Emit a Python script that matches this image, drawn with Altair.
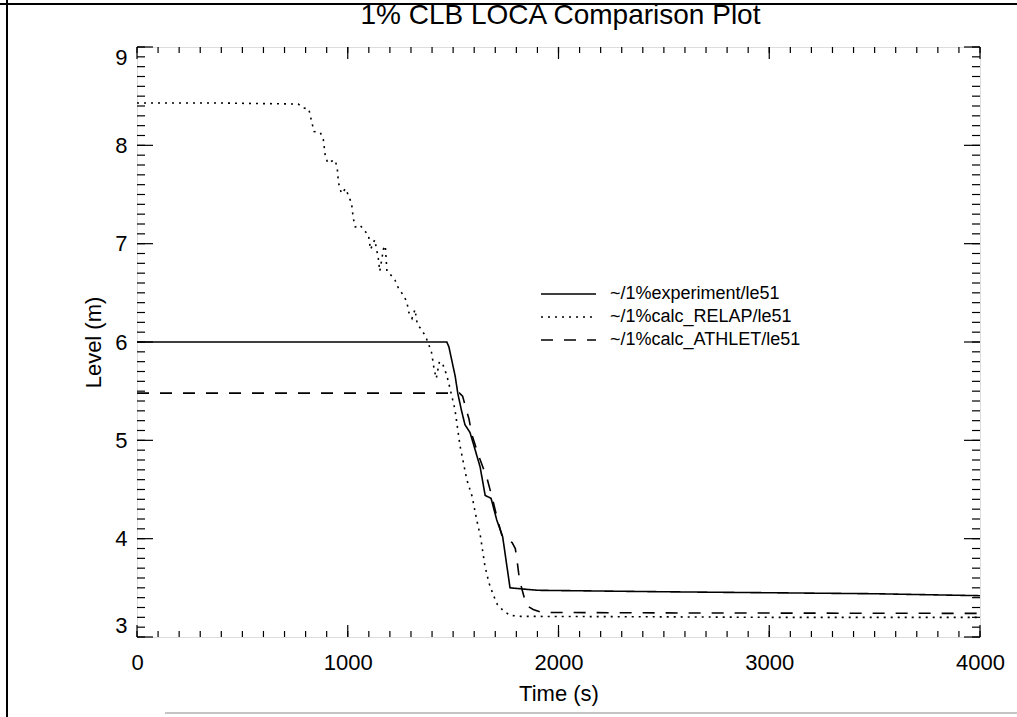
import altair as alt
import pandas as pd

# ---------------- data ----------------
chart_title = "1% CLB LOCA Comparison Plot"
series_names = ["~/1%experiment/le51", "~/1%calc_RELAP/le51", "~/1%calc_ATHLET/le51"]

exp_t = [0, 1470, 1480, 1495, 1510, 1522, 1540, 1556, 1580, 1605, 1628, 1652, 1680,
         1707, 1735, 1770, 1900, 2500, 3000, 3500, 4000]
exp_l = [6.0, 6.0, 5.95, 5.8, 5.65, 5.48, 5.3, 5.16, 5.08, 4.9, 4.73, 4.44, 4.41,
         4.19, 4.02, 3.50, 3.475, 3.46, 3.45, 3.44, 3.42]

relap_t = [0, 400, 765, 790, 815, 829, 840, 870, 884, 893, 905, 925, 940, 950, 956, 970,
           990, 1005, 1018, 1026, 1036, 1058, 1080, 1098, 1108, 1128, 1145, 1152, 1170,
           1178, 1186, 1205, 1224, 1240, 1262, 1280, 1290, 1305, 1319, 1330, 1345, 1366,
           1382, 1398, 1410, 1420, 1435, 1450, 1470, 1485, 1509, 1533, 1565, 1590, 1612,
           1630, 1651, 1670, 1690, 1710, 1737, 1770, 1820, 2500, 3000, 3500, 4000]
relap_l = [8.43, 8.43, 8.42, 8.38, 8.37, 8.24, 8.14, 8.13, 8.06, 7.90, 7.82, 7.84, 7.85,
           7.77, 7.62, 7.51, 7.56, 7.48, 7.41, 7.26, 7.17, 7.19, 7.13, 7.09, 6.94, 7.04,
           6.85, 6.72, 6.95, 6.98, 6.72, 6.68, 6.63, 6.55, 6.48, 6.41, 6.30, 6.24, 6.33,
           6.18, 6.14, 6.07, 5.99, 5.89, 5.72, 5.63, 5.80, 5.78, 5.66, 5.53, 5.31, 4.94,
           4.60, 4.43, 4.19, 4.02, 3.72, 3.55, 3.43, 3.33, 3.27, 3.22, 3.21, 3.205, 3.20,
           3.20, 3.20]

ath_t = [0, 1530, 1545, 1560, 1575, 1590, 1620, 1660, 1685, 1710, 1732, 1755, 1780, 1795,
         1805, 1815, 1835, 1848, 1880, 1920, 2500, 4000]
ath_l = [5.48, 5.48, 5.45, 5.33, 5.22, 5.05, 4.85, 4.62, 4.42, 4.2, 4.03, 3.99, 3.96, 3.9,
         3.75, 3.58, 3.42, 3.32, 3.28, 3.25, 3.245, 3.24]

x_major = [0, 1000, 2000, 3000, 4000]
x_minor = list(range(0, 4001, 100))
y_major = [3, 4, 5, 6, 7, 8, 9]
y_minor = [round(3 + i * 0.1, 1) for i in range(61)]

# ---------------- layout ----------------
W, H = 843, 590
FONT = "Liberation Sans"

frames = []
for name, ts, ls in [(series_names[0], exp_t, exp_l),
                     (series_names[1], relap_t, relap_l),
                     (series_names[2], ath_t, ath_l)]:
    frames.append(pd.DataFrame({"t": ts, "L": ls, "series": name}))
df = pd.concat(frames, ignore_index=True)
df["order"] = range(len(df))

xscale = alt.Scale(domain=[0, 4000], nice=False, zero=False)
yscale = alt.Scale(domain=[3, 9], nice=False, zero=False)
xaxis = alt.Axis(values=x_major, format="d", ticks=False, tickSize=0, domain=False, grid=False,
                 labelFontSize=22, labelFont=FONT, labelColor="black", labelPadding=15,
                 labelFlush=False,
                 titleFontSize=22, titleFont=FONT, titleFontWeight="normal", titleColor="black",
                 titlePadding=10)
yaxis = alt.Axis(values=y_major, format="d", ticks=False, tickSize=0, domain=False, grid=False,
                 labelFontSize=22, labelFont=FONT, labelColor="black", labelPadding=10,
                 labelFlush=True,
                 titleFontSize=22, titleFont=FONT, titleFontWeight="normal", titleColor="black",
                 titlePadding=9)
xenc = alt.X("t:Q", scale=xscale, axis=xaxis, title="Time (s)")
yenc = alt.Y("L:Q", scale=yscale, axis=yaxis, title="Level (m)")

lines = alt.Chart(df).mark_line(color="black", strokeWidth=1.6, clip=True).encode(
    x=xenc,
    y=yenc,
    strokeDash=alt.StrokeDash(
        "series:N",
        scale=alt.Scale(domain=series_names, range=[[1, 0], [2, 5], [12, 11]]),
        legend=alt.Legend(
            title=None, orient="none", legendX=419.5, legendY=235, direction="vertical",
            symbolType="M-2.5,0H2.5", symbolSize=484, symbolStrokeWidth=1.5,
            symbolStrokeColor="black", symbolFillColor="transparent",
            labelOffset=29.5, labelFontSize=18, labelFont=FONT, labelColor="black",
            labelLimit=0, rowPadding=2, padding=0,
        ),
    ),
    order="order:Q",
)

xmaj = pd.DataFrame({"t": x_major})
xmin = pd.DataFrame({"t": x_minor})
ymaj = pd.DataFrame({"L": y_major})
ymin = pd.DataFrame({"L": y_minor})

def xticks(data, length):
    bot = alt.Chart(data).mark_rule(color="black", strokeWidth=1.2).encode(
        x=xenc, y=alt.value(H), y2=alt.value(H - length))
    top = alt.Chart(data).mark_rule(color="black", strokeWidth=1.2).encode(
        x=xenc, y=alt.value(0), y2=alt.value(length))
    return [bot, top]

def yticks(data, length):
    left = alt.Chart(data).mark_rule(color="black", strokeWidth=1.2).encode(
        y=yenc, x=alt.value(0), x2=alt.value(length))
    right = alt.Chart(data).mark_rule(color="black", strokeWidth=1.2).encode(
        y=yenc, x=alt.value(W), x2=alt.value(W - length))
    return [left, right]

one = alt.Data(values=[{"a": 1}])
title_mark = alt.Chart(one).mark_text(
    font=FONT, fontSize=28, color="black", align="center", baseline="alphabetic"
).encode(x=alt.value(W / 2 + 2), y=alt.value(-23), text=alt.value(chart_title))

border_left = alt.Chart(one).mark_rule(color="black", strokeWidth=2).encode(
    x=alt.value(-130), y=alt.value(-47), y2=alt.value(670))
border_top = alt.Chart(one).mark_rule(color="black", strokeWidth=2).encode(
    y=alt.value(-43), x=alt.value(-137), x2=alt.value(880))
border_bottom = alt.Chart(one).mark_rule(color="#c4c4c4", strokeWidth=2).encode(
    y=alt.value(666), x=alt.value(28), x2=alt.value(880))

layers = ([lines] + xticks(xmin, 6) + xticks(xmaj, 12) + yticks(ymin, 8) + yticks(ymaj, 16)
          + [title_mark, border_left, border_top, border_bottom])

chart = alt.layer(*layers).properties(
    width=W, height=H,
    autosize=alt.AutoSizeParams(type="none"),
    padding={"left": 137, "top": 47, "right": 37, "bottom": 80},
).configure_view(stroke="black", strokeWidth=1.8).configure(background="white")

chart.save("out.html", embed_options={"renderer": "svg", "actions": False})
